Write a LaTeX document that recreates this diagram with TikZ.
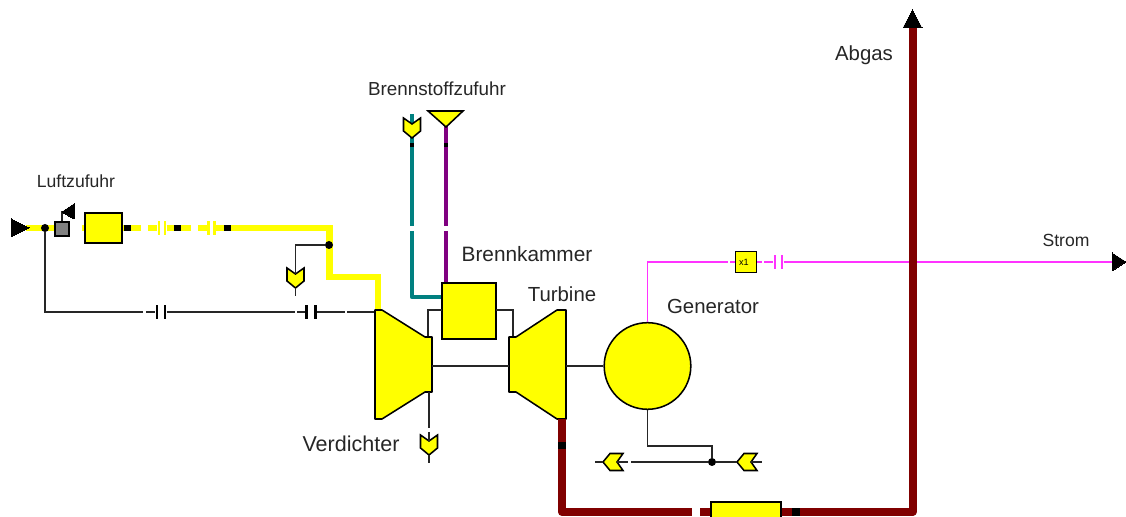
\documentclass[tikz,border=0pt]{standalone}
\usepackage{fontspec}
\setmainfont{Liberation Sans}

\definecolor{air_yellow}{HTML}{FFFF00}
\definecolor{fuel_teal}{HTML}{008080}
\definecolor{fuel_purple}{HTML}{800080}
\definecolor{gas_red}{HTML}{800000}
\definecolor{power_pink}{HTML}{FF33FF}

\begin{document}
\begin{tikzpicture}[x=0.025cm,y=-0.025cm,
    unit_node/.style={draw=black,fill=air_yellow,line width=1.1pt,inner sep=0pt},
    dot_node/.style={circle,fill=black,inner sep=0pt,minimum size=0.2cm},
    mark_node/.style={rectangle,fill=black,inner sep=0pt,minimum size=0.17cm},
    bar_node/.style={rectangle,inner sep=0pt,minimum width=0.065cm,minimum height=0.35cm},
    tip_node/.style={fill=black,line width=0pt},
    air_line/.style={air_yellow,line width=4.6pt},
    teal_line/.style={fuel_teal,line width=3.2pt,line join=round},
    purple_line/.style={fuel_purple,line width=3.2pt},
    gas_line/.style={gas_red,line width=5.7pt,line join=round},
    power_line/.style={power_pink,line width=1.4pt},
    signal_line/.style={black!85,line width=1.2pt},
    name_label/.style={font=\fontsize{14.5}{16}\selectfont,text=black!85,inner sep=0pt},
    small_label/.style={font=\fontsize{12.5}{14}\selectfont,text=black!85,inner sep=0pt},
    conn/.pic={
        \draw[unit_node] (-8.5,-10) -- (0,-4) -- (8.5,-10) -- (8.5,3) -- (0,10) -- (-8.5,3) -- cycle;
        \coordinate (-top) at (0,-4);
        \coordinate (-bot) at (0,10);
    }]

    \clip (0,0) rectangle (1126,517);

    % labels
    \node[small_label] (label_air) at (76,181) {Luftzufuhr};
    \node[small_label,font=\fontsize{13.4}{15}\selectfont] (label_fuel) at (437,89) {Brennstoffzufuhr};
    \node[name_label,font=\fontsize{14.8}{16}\selectfont] (label_burner) at (527,254) {Brennkammer};
    \node[name_label] (label_turbine) at (562,294) {Turbine};
    \node[name_label] (label_generator) at (713,306) {Generator};
    \node[name_label,font=\fontsize{15.3}{17}\selectfont] (label_compressor) at (351,444) {Verdichter};
    \node[name_label] (label_exhaust) at (864,55) {Abgas};
    \node[small_label] (label_power) at (1066,240) {Strom};

    % air line
    \node[draw=black,fill=gray,line width=1.1pt,inner sep=0pt,minimum size=0.35cm] (valve) at (62,229) {};
    \coordinate (air_start) at (26,228);
    \coordinate (air_a) at (82,228);
    \coordinate (air_b) at (141,228);
    \coordinate (air_c) at (148,228);
    \coordinate (air_d) at (191,228);
    \coordinate (air_e) at (198,228);
    \coordinate (air_corner_a) at (329.5,228);
    \coordinate (air_corner_b) at (329.5,277);
    \coordinate (air_corner_c) at (378,277);
    \coordinate (air_end) at (378,312);
    \node[bar_node,fill=air_yellow] (air_bar_a) at (159,228) {};
    \node[bar_node,fill=air_yellow] (air_bar_b) at (165,228) {};
    \node[bar_node,fill=air_yellow] (air_bar_c) at (208.5,228) {};
    \node[bar_node,fill=air_yellow] (air_bar_d) at (214.5,228) {};
    \node[unit_node,minimum width=0.925cm,minimum height=0.75cm] (box_air) at (103.5,228) {};
    \draw[air_line] (air_start) -- (valve.west |- air_start);
    \draw[air_line] (air_a) -- (box_air);
    \draw[air_line] (box_air) -- (air_b);
    \draw[air_line] (air_c) -- (air_bar_a);
    \draw[air_line] (air_bar_b) -- (air_d);
    \draw[air_line] (air_e) -- (air_bar_c);
    \draw[air_line] (air_bar_d) -- (air_corner_a) -- (air_corner_b) -- (air_corner_c) -- (air_end);
    \node[mark_node] (mark_a) at (127.5,228) {};
    \node[mark_node] (mark_b) at (177.5,228) {};
    \node[mark_node] (mark_c) at (227.5,228) {};

    % inlet with valve
    \draw[tip_node] (11,219) -- (29,228) -- (11,237) -- cycle;
    \coordinate (valve_top) at (62,212);
    \coordinate (flag_end) at (66,212);
    \draw[signal_line] (valve) -- (valve_top) -- (flag_end);
    \draw[tip_node] (62,212) -- (74,204) -- (74,219) -- cycle;

    % signal from inlet to compressor
    \node[dot_node] (dot_inlet) at (45,228) {};
    \node[bar_node,fill=black] (bar_a) at (157,312) {};
    \node[bar_node,fill=black] (bar_b) at (165,312) {};
    \node[bar_node,fill=black] (bar_c) at (306.5,312) {};
    \node[bar_node,fill=black] (bar_d) at (315.5,312) {};
    \coordinate (sig_corner) at (45,312);
    \coordinate (sig_a) at (143,312);
    \coordinate (sig_b) at (146,312);
    \coordinate (sig_c) at (295,312);
    \coordinate (sig_d) at (297,312);
    \coordinate (sig_e) at (345,312);
    \coordinate (sig_f) at (347,312);
    \coordinate (sig_end) at (375.5,312);
    \draw[signal_line] (dot_inlet) -- (sig_corner) -- (sig_a);
    \draw[signal_line] (sig_b) -- (bar_a);
    \draw[signal_line] (bar_b) -- (sig_c);
    \draw[signal_line] (sig_d) -- (bar_c);
    \draw[signal_line] (bar_d) -- (sig_e);
    \draw[signal_line] (sig_f) -- (sig_end);

    % branch off the air line
    \node[dot_node] (dot_branch) at (329,245) {};
    \coordinate (branch_corner) at (295.5,245);
    \coordinate (branch_end) at (295.5,296);
    \pic (conn_a) at (295.5,278) {conn};
    \draw[signal_line] (dot_branch) -- (branch_corner) -- (conn_a-top);
    \draw[signal_line] (conn_a-bot) -- (branch_end);

    % fuel lines
    \node[unit_node,minimum width=1.35cm,minimum height=1.4cm] (burner) at (469,311) {};
    \coordinate (teal_top) at (412,114);
    \coordinate (teal_a) at (412,226);
    \coordinate (teal_b) at (412,231);
    \coordinate (teal_corner) at (412,297);
    \coordinate (purple_top) at (446,118);
    \coordinate (purple_a) at (446,226);
    \coordinate (purple_b) at (446,231);
    \draw[teal_line] (teal_top) -- (teal_a);
    \draw[teal_line] (teal_b) -- (teal_corner) -- (burner.west |- teal_corner);
    \draw[purple_line] (purple_top) -- (purple_a);
    \draw[purple_line] (purple_b) -- (purple_b |- burner.north);
    \pic (conn_b) at (412,128) {conn};
    \draw[unit_node] (428,111) -- (463,111) -- (446,127) -- cycle;
    \node[mark_node,minimum size=0.12cm] (mark_d) at (412,145) {};
    \node[mark_node,minimum size=0.12cm] (mark_e) at (446,145) {};

    % compressor and turbine
    \coordinate (burner_left) at (442,310);
    \coordinate (burner_right) at (496,310);
    \coordinate (burner_left_bend) at (428,310);
    \coordinate (burner_right_bend) at (513,310);
    \coordinate (compressor_top) at (428,337);
    \coordinate (turbine_top) at (513,337);
    \draw[signal_line] (burner_left) -- (burner_left_bend) -- (compressor_top);
    \draw[signal_line] (burner_right) -- (burner_right_bend) -- (turbine_top);
    \draw[unit_node,line join=round] (375,310) -- (382,310) -- (425,337) -- (432,337) -- (432,392) -- (425,392) -- (382,419) -- (375,419) -- cycle;
    \draw[unit_node,line join=round] (566,310) -- (557,310) -- (516,337) -- (509,337) -- (509,392) -- (516,392) -- (557,419) -- (566,419) -- cycle;
    \coordinate (compressor_out) at (432,366);
    \coordinate (turbine_in) at (509,366);
    \coordinate (turbine_out) at (566,366);
    \draw[signal_line] (compressor_out) -- (turbine_in);

    % power line, below the exhaust
    \node[unit_node,circle,minimum size=2.165cm] (generator) at (647.5,366) {};
    \draw[signal_line] (turbine_out) -- (generator);
    \node[unit_node,minimum size=0.53cm,font=\fontsize{6.5}{7}\selectfont] (box_power) at (746,262) {\hspace*{-0.1cm}x1};
    \node[bar_node,fill=power_pink,minimum width=0.07cm] (power_bar_a) at (775,262) {};
    \node[bar_node,fill=power_pink,minimum width=0.07cm] (power_bar_b) at (782,262) {};
    \coordinate (power_corner) at (647.5,262);
    \coordinate (power_a) at (728,262);
    \coordinate (power_b) at (730,262);
    \coordinate (power_c) at (762,262);
    \coordinate (power_d) at (764,262);
    \coordinate (power_end) at (1113,262);
    \draw[power_line] (generator.north) -- (power_corner) -- (power_a);
    \draw[power_line] (power_b) -- (box_power);
    \draw[power_line] (box_power) -- (power_c);
    \draw[power_line] (power_d) -- (power_bar_a);
    \draw[power_line] (power_bar_b) -- (power_end);
    \draw[tip_node] (1112,253) -- (1126,262) -- (1112,271) -- cycle;

    % exhaust
    \node[unit_node,minimum width=1.75cm,minimum height=0.9cm] (box_exhaust) at (746,520) {};
    \coordinate (gas_start) at (562,419);
    \coordinate (gas_corner_a) at (562,512);
    \coordinate (gas_a) at (692,512);
    \coordinate (gas_b) at (700,512);
    \coordinate (gas_corner_b) at (912.5,512);
    \coordinate (gas_end) at (912.5,28);
    \draw[gas_line] (gas_start) -- (gas_corner_a) -- (gas_a);
    \draw[gas_line] (gas_b) -- (box_exhaust.west |- gas_b);
    \draw[gas_line] (box_exhaust.east |- gas_b) -- (gas_corner_b) -- (gas_end);
    \draw[tip_node] (903,28) -- (912.5,10) -- (922,28) -- cycle;
    \node[mark_node,minimum width=0.2cm,minimum height=0.19cm] (mark_f) at (562,445.5) {};
    \node[mark_node,minimum width=0.2cm,minimum height=0.19cm] (mark_g) at (796,512) {};

    % connectors at compressor and generator
    \coordinate (compressor_bottom) at (429,392);
    \coordinate (compressor_a) at (429,428);
    \coordinate (compressor_b) at (429,432);
    \coordinate (compressor_end) at (429,463);
    \pic (conn_c) at (429,445) {conn};
    \draw[signal_line] (compressor_bottom) -- (compressor_a);
    \draw[signal_line] (compressor_b) -- (conn_c-top);
    \draw[signal_line] (conn_c-bot) -- (compressor_end);

    \node[dot_node] (dot_generator) at (712,462) {};
    \coordinate (gen_corner_a) at (647.5,446);
    \coordinate (gen_corner_b) at (712,446);
    \draw[signal_line] (generator.south) -- (gen_corner_a) -- (gen_corner_b) -- (dot_generator);
    \coordinate (gen_a) at (595,462);
    \coordinate (gen_b) at (628,462);
    \coordinate (gen_c) at (631,462);
    \coordinate (gen_d) at (762,462);
    \pic[rotate=-90] (conn_d) at (613,462) {conn};
    \pic[rotate=-90] (conn_e) at (747,462) {conn};
    \draw[signal_line] (gen_a) -- (conn_d-bot);
    \draw[signal_line] (conn_d-top) -- (gen_b);
    \draw[signal_line] (gen_c) -- (dot_generator);
    \draw[signal_line] (dot_generator) -- (conn_e-bot);
    \draw[signal_line] (conn_e-top) -- (gen_d);
\end{tikzpicture}
\end{document}
